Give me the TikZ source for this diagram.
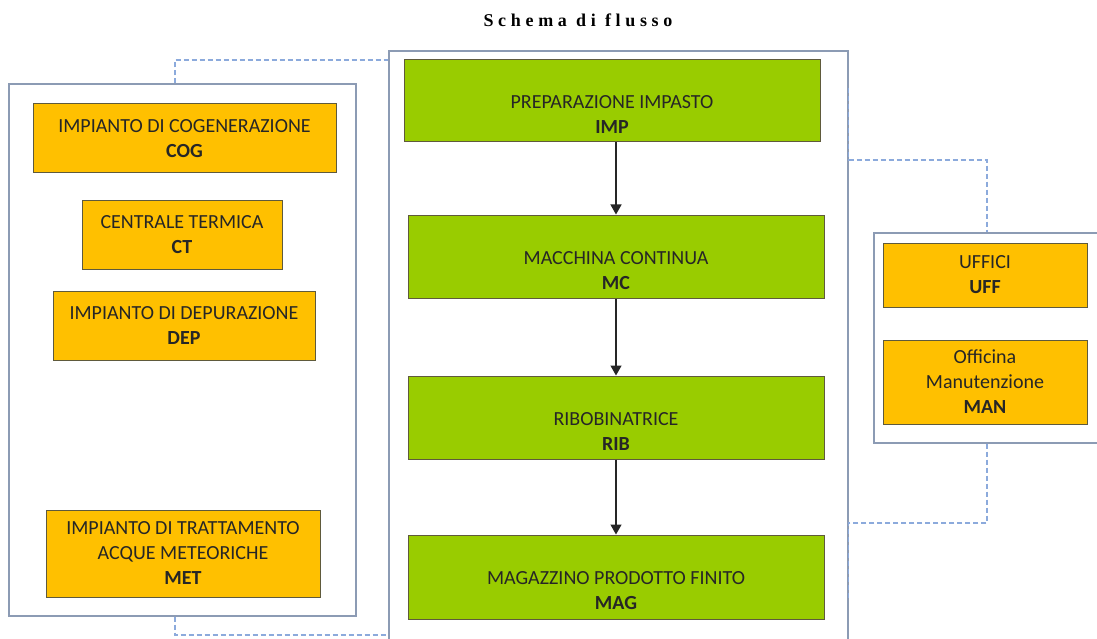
\documentclass[tikz,border=0pt]{standalone}
\usepackage{fontspec}
\setmainfont{Carlito}
\newfontfamily\titlefont[LetterSpace=26]{Liberation Serif}
\usetikzlibrary{arrows.meta}

\begin{document}
\begin{tikzpicture}[
  x=1pt, y=-1pt,
  panel/.style={draw={rgb,255:red,140;green,155;blue,180},line width=1.3pt,fill=white,inner sep=0pt},
  plant/.style={draw={rgb,255:red,95;green,90;blue,60},fill={rgb,255:red,255;green,192;blue,0},line width=1pt,inner sep=0pt,align=center,font=\fontsize{20}{25}\selectfont,text=black!85},
  unit/.style={plant,fill={rgb,255:red,153;green,204;blue,0},text height=65pt,text depth=0pt},
  link/.style={draw={rgb,255:red,140;green,170;blue,220},line width=1.6pt,dash pattern=on 5pt off 3pt},
  flow/.style={draw=black!85,line width=1.3pt,-{Triangle[length=10pt,width=11pt]}}
]
  \useasboundingbox (0,0) rectangle (1097,639);
  \node[font=\titlefont\bfseries\fontsize{18}{20}\selectfont] (title) at (578,20) {Schema di flusso};

  \node[panel,minimum width=347pt,minimum height=532pt] (pl) at (182.5,350) {};
  \node[panel,minimum width=459pt,minimum height=599pt] (pc) at (618.5,350.5) {};
  \node[panel,minimum width=226pt,minimum height=210pt] (pr) at (987,338) {};

  \draw[link] (pc.east |- 0,88) -- (pc.east |- 0,160) -| (pr.north);
  \draw[link] (pr.south) |- (pc.east |- 0,523) -- (pc.east |- 0,600);
  \draw[link] ([xshift=-7.5pt]pl.north) |- (pc.west |- 0,60);
  \draw[link] ([xshift=-7.5pt]pl.south) |- (pc.west |- 0,635);

  \node[plant,minimum width=303pt,minimum height=69pt] (cog) at (184.5,138.5) {IMPIANTO DI COGENERAZIONE\\\textbf{COG}};
  \node[plant,minimum width=200pt,minimum height=68pt] (ct) at (182,235) {CENTRALE TERMICA\\\textbf{CT}};
  \node[plant,minimum width=262pt,minimum height=69pt] (dep) at (184,325.5) {IMPIANTO DI DEPURAZIONE\\\textbf{DEP}};
  \node[plant,minimum width=274pt,minimum height=87pt] (met) at (183,553.5) {IMPIANTO DI TRATTAMENTO\\ACQUE METEORICHE\\\textbf{MET}};

  \node[unit,minimum width=416pt,minimum height=82pt] (imp) at (612,101) {PREPARAZIONE IMPASTO\\\textbf{IMP}};
  \node[unit,minimum width=416pt,minimum height=83pt] (mc) at (616,256.5) {MACCHINA CONTINUA\\\textbf{MC}};
  \node[unit,minimum width=416pt,minimum height=83pt] (rib) at (616,417.5) {RIBOBINATRICE\\\textbf{RIB}};
  \node[unit,minimum width=416pt,minimum height=84pt] (mag) at (616,577) {MAGAZZINO PRODOTTO FINITO\\\textbf{MAG}};

  \node[plant,minimum width=204pt,minimum height=64pt] (uff) at (985,275) {UFFICI\\\textbf{UFF}};
  \node[plant,minimum width=204pt,minimum height=84pt] (man) at (985,382) {Officina\\Manutenzione\\\textbf{MAN}};

  \draw[flow] (imp.south -| mc.north) -- (mc.north);
  \draw[flow] (mc) -- (rib);
  \draw[flow] (rib) -- (mag);
\end{tikzpicture}
\end{document}
